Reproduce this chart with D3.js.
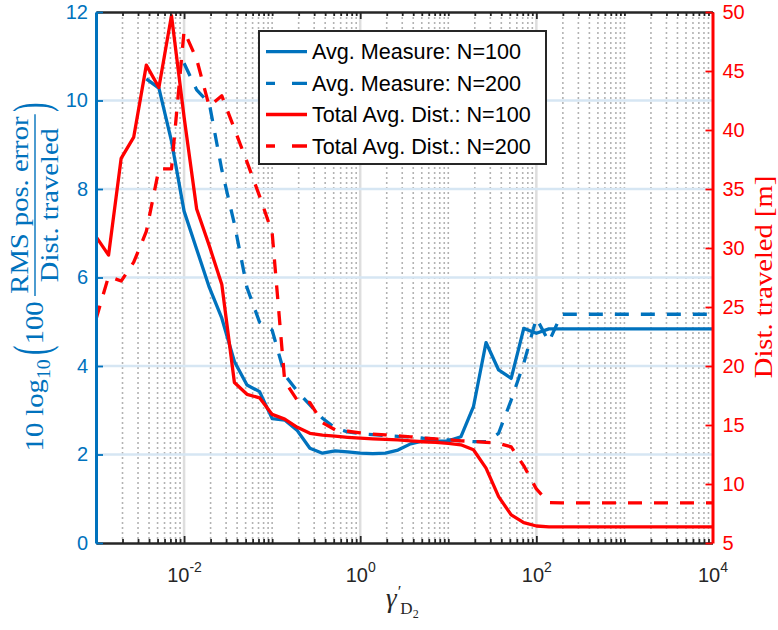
<!DOCTYPE html>
<html><head><meta charset="utf-8">
<script src="https://cdn.jsdelivr.net/npm/d3@7"></script>
<style>body{margin:0;background:#fff}</style>
</head><body>
<svg id="chart" width="778" height="630"></svg>
<script>
// ---------------- data ----------------
const gamma = [0.001,0.0013895,0.0019307,0.0026827,0.0037276,0.0051795,0.0071969,
  0.01,0.013895,0.019307,0.026827,0.037276,0.051795,0.071969,
  0.1,0.13895,0.19307,0.26827,0.37276,0.51795,0.71969,
  1,1.3895,1.9307,2.6827,3.7276,5.1795,7.1969,
  10,13.895,19.307,26.827,37.276,51.795,71.969,
  100,138.95,193.07,268.27,372.76,517.95,719.69,
  1000,1389.5,1930.7,2682.7,3727.6,5179.5,7196.9,10000];
const avgMeasureN100 = [null,null,null,null,10.49,10.28,9.08,7.50,6.64,5.78,5.08,4.10,3.57,3.42,2.81,2.78,2.54,2.14,2.03,2.08,2.06,2.03,2.02,2.03,2.10,2.24,2.31,2.30,2.31,2.40,3.08,4.53,3.91,3.72,4.85,4.74,4.84,
  4.84,4.84,4.84,4.84,4.84,4.84,4.84,4.84,4.84,4.84,4.84,4.84,4.84];
const avgMeasureN200 = [null,null,null,null,null,null,null,10.84,10.24,9.94,8.43,7.21,5.77,4.99,4.81,3.80,3.43,3.12,2.82,2.60,2.51,2.47,2.45,2.43,2.41,2.40,2.37,2.35,2.33,2.31,2.29,2.29,2.48,3.23,4.06,5.08,4.55,
  5.17,5.17,5.17,5.17,5.17,5.17,5.17,5.17,5.17,5.17,5.17,5.17,5.17];
const totalDistN100 = [30.96,29.4,37.6,39.4,45.5,43.6,49.7,41.1,33.3,30.2,26.9,18.6,17.6,17.3,15.9,15.5,14.8,14.3,14.15,14.05,13.96,13.89,13.83,13.79,13.74,13.66,13.58,13.52,13.45,13.32,12.9,11.34,8.93,7.38,6.72,6.44,6.36,
  6.36,6.36,6.36,6.36,6.36,6.36,6.36,6.36,6.36,6.36,6.36,6.36,6.36];
const totalDistN200 = [23.96,27.6,27.2,28.8,31.4,36.7,36.7,48.4,46.0,42.0,42.9,40.1,37.3,34.4,31.3,18.7,17.1,16.9,15.2,14.6,14.47,14.34,14.23,14.17,14.08,14.0,13.9,13.83,13.75,13.66,13.6,13.53,13.45,13.15,11.54,9.58,8.42,
  8.4,8.4,8.4,8.4,8.4,8.4,8.4,8.4,8.4,8.4,8.4,8.4,8.4];
const leftTicks = [0,2,4,6,8,10,12];
const rightTicks = [5,10,15,20,25,30,35,40,45,50];
const xMajorTicks = [1e-2,1,1e2,1e4];
const xTickExponents = ["-2","0","2","4"];
const legendLabels = ["Avg. Measure: N=100","Avg. Measure: N=200","Total Avg. Dist.: N=100","Total Avg. Dist.: N=200"];

// ---------------- layout ----------------
const blue = "#0072BD", red = "#FF0000", axisColor = "#262626";
const m = {left:96, right:712.5, top:12, bottom:543};
const x = d3.scaleLog().domain([1e-3,1e4]).range([m.left,m.right]);
const yL = d3.scaleLinear().domain([0,12]).range([m.bottom,m.top]);
const yR = d3.scaleLinear().domain([5,50]).range([m.bottom,m.top]);
const svg = d3.select("#chart");
svg.append("rect").attr("width",778).attr("height",630).attr("fill","#fff");
svg.append("defs").append("clipPath").attr("id","plotClip").append("rect")
  .attr("x",m.left).attr("y",m.top).attr("width",m.right-m.left).attr("height",m.bottom-m.top);

// minor positions
const minorVals = [];
for (let e=-3;e<4;e++) for (let k=1;k<10;k++){
  if (k===1 && (e%2===0 || e===-3)) continue;
  minorVals.push(+(k*Math.pow(10,e)).toPrecision(6));
}
const gridMajor = [1e-2,1,1e2];

// grids
const grid = svg.append("g");
grid.selectAll("line.minor").data(minorVals).join("line")
  .attr("x1",d=>x(d)).attr("x2",d=>x(d)).attr("y1",m.top).attr("y2",m.bottom)
  .attr("stroke","#b3b3b3").attr("stroke-width",1.6).attr("stroke-dasharray","2,3");
grid.selectAll("line.major").data(gridMajor).join("line")
  .attr("x1",d=>x(d)).attr("x2",d=>x(d)).attr("y1",m.top).attr("y2",m.bottom)
  .attr("stroke","#dedede").attr("stroke-width",2.5);
grid.selectAll("line.h").data(leftTicks.slice(1,-1)).join("line")
  .attr("x1",m.left).attr("x2",m.right).attr("y1",d=>yL(d)).attr("y2",d=>yL(d))
  .attr("stroke","#d6e6f3").attr("stroke-width",2.5);

// data lines
const plot = svg.append("g").attr("clip-path","url(#plotClip)");
const series = [
  {vals:avgMeasureN100, y:yL, color:blue, dash:null},
  {vals:avgMeasureN200, y:yL, color:blue, dash:"14,12"},
  {vals:totalDistN100, y:yR, color:red, dash:null},
  {vals:totalDistN200, y:yR, color:red, dash:"14,12"}
];
series.forEach(s=>{
  const line = d3.line().defined(d=>d[1]!==null).x(d=>x(d[0])).y(d=>s.y(d[1]));
  plot.append("path").datum(gamma.map((g,i)=>[g,s.vals[i]]))
    .attr("d",line).attr("fill","none").attr("stroke",s.color)
    .attr("stroke-width",3.3).attr("stroke-linejoin","round")
    .attr("stroke-dasharray",s.dash);
});

// axes
function styleAxis(g,color,w){
  g.select(".domain").attr("stroke",color).attr("stroke-width",w);
  g.selectAll(".tick line").attr("stroke",color).attr("stroke-width",1.8);
  g.selectAll(".tick text").attr("fill",color).attr("font-size",20).attr("font-family","'Liberation Sans', Arial, sans-serif");
}
// bottom
const gB = svg.append("g").attr("transform",`translate(0,${m.bottom})`)
  .call(d3.axisBottom(x).tickValues(xMajorTicks).tickSizeInner(-7).tickSizeOuter(0).tickFormat(()=>""));
styleAxis(gB,axisColor,2.5);
const gBm = svg.append("g").attr("transform",`translate(0,${m.bottom})`)
  .call(d3.axisBottom(x).tickValues(minorVals).tickSizeInner(-4).tickSizeOuter(0).tickFormat(()=>""));
gBm.select(".domain").remove(); gBm.selectAll(".tick line").attr("stroke",axisColor).attr("stroke-width",1.8);
gB.selectAll(".tick").each(function(d,i){
  const t = d3.select(this).append("text").attr("y",38.5).attr("text-anchor","middle")
    .attr("fill",axisColor).attr("font-family","'Liberation Sans', Arial, sans-serif");
  t.append("tspan").attr("font-size",20).text("10");
  t.append("tspan").attr("font-size",14).attr("dy",-10).text(xTickExponents[i]);
});
// top
const gT = svg.append("g").attr("transform",`translate(0,${m.top})`)
  .call(d3.axisTop(x).tickValues(xMajorTicks).tickSizeInner(-7).tickSizeOuter(0).tickFormat(()=>""));
styleAxis(gT,axisColor,2.5);
const gTm = svg.append("g").attr("transform",`translate(0,${m.top})`)
  .call(d3.axisTop(x).tickValues(minorVals).tickSizeInner(-4).tickSizeOuter(0).tickFormat(()=>""));
gTm.select(".domain").remove(); gTm.selectAll(".tick line").attr("stroke",axisColor).attr("stroke-width",1.8);
// left
const gL = svg.append("g").attr("transform",`translate(${m.left},0)`)
  .call(d3.axisLeft(yL).tickValues(leftTicks).tickSizeInner(-7).tickSizeOuter(0).tickPadding(8));
styleAxis(gL,blue,3);
// right
const gR = svg.append("g").attr("transform",`translate(${m.right},0)`)
  .call(d3.axisRight(yR).tickValues(rightTicks).tickSizeInner(-7).tickSizeOuter(0).tickPadding(10));
styleAxis(gR,red,3);

// legend
const lg = svg.append("g");
lg.append("rect").attr("x",259).attr("y",31).attr("width",287).attr("height",133)
  .attr("fill","#fff").attr("stroke",axisColor).attr("stroke-width",2);
const rowY = [51.7,83.3,114.5,146];
series.forEach((s,i)=>{
  lg.append("line").attr("x1",266).attr("x2",307).attr("y1",rowY[i]).attr("y2",rowY[i])
    .attr("stroke",s.color).attr("stroke-width",3.3)
    .attr("stroke-dasharray",s.dash ? "9,17,15,40" : null);
  lg.append("text").attr("x",312).attr("y",rowY[i]+7.5).attr("font-size",21.6)
    .attr("font-family","'Liberation Sans', Arial, sans-serif").attr("fill","#000")
    .text(legendLabels[i]);
});

// x label
const xl = svg.append("text").attr("x",386).attr("y",607).attr("fill",axisColor)
  .attr("font-family","'Liberation Serif', serif");
xl.append("tspan").attr("font-style","italic").attr("font-size",27).text("γ");
xl.append("tspan").attr("font-size",17).attr("dy",-10).attr("dx",1).text("′");
xl.append("tspan").attr("font-size",17).attr("dy",17).attr("dx",-1).text("D");
xl.append("tspan").attr("font-size",12).attr("dy",4).text("2");

// left y label (built in a rotated frame)
const sx = 1.1, fs = 26;
const outer = svg.append("g").attr("fill",blue).attr("font-family","'Liberation Serif', serif");
const inner = outer.append("g");
let cur = 0;
const addText = (txt,size,yy) => inner.append("text").attr("x",cur).attr("y",yy).attr("font-size",size).text(txt);
const axisY = -8;
const addParen = (ch) => {
  const g = inner.append("g").attr("transform",`translate(${cur},${axisY}) scale(1,1.95)`);
  const t = g.append("text").attr("x",0).attr("y",0.255*fs).attr("font-size",fs).text(ch);
  return t.node().getComputedTextLength();
};
let t = addText("10 log",fs,0); cur += t.node().getComputedTextLength();
t = addText("10",18,7); cur += t.node().getComputedTextLength()+4;
cur += addParen("(") + 1;
t = addText("100",fs,0); cur += t.node().getComputedTextLength()+5;
const num = inner.append("text").attr("y",-15).attr("font-size",fs).attr("text-anchor","middle").text("RMS pos. error");
const den = inner.append("text").attr("y",15).attr("font-size",fs).attr("text-anchor","middle").text("Dist. traveled");
const wf = Math.max(num.node().getComputedTextLength(), den.node().getComputedTextLength()) + 4;
num.attr("x",cur+wf/2); den.attr("x",cur+wf/2);
inner.append("line").attr("x1",cur).attr("x2",cur+wf).attr("y1",axisY).attr("y2",axisY)
  .attr("stroke",blue).attr("stroke-width",1.4);
cur += wf + 2;
cur += addParen(")");
const total = cur*sx;
outer.attr("transform",`translate(43,${277+total/2}) rotate(-90) scale(${sx},1)`);

// right y label
svg.append("text").attr("transform",`translate(772,277) rotate(-90) scale(1.1,1)`)
  .attr("text-anchor","middle").attr("fill",red).attr("font-size",26)
  .attr("font-family","'Liberation Serif', serif").text("Dist. traveled [m]");
</script>
</body></html>
